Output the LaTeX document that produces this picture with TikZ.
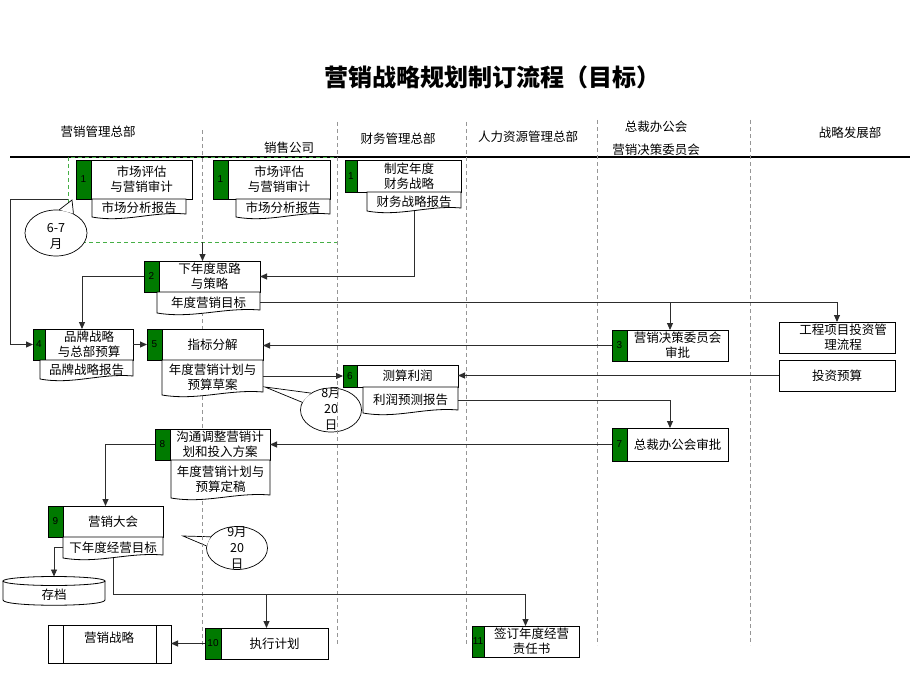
\documentclass[tikz,border=0pt]{standalone}
\usepackage{fontspec}
\newfontfamily\cjk{Noto Sans CJK SC}
\newfontfamily\numfont{Liberation Sans}
\usetikzlibrary{arrows.meta,shapes.geometric,calc}
\definecolor{mygreen}{RGB}{0,122,0}
\definecolor{lanegray}{RGB}{150,150,150}
\definecolor{linegray}{RGB}{45,45,45}
\definecolor{grpgreen}{RGB}{70,175,70}
\tikzset{
  lbl/.style={font=\cjk\fontsize{12.5}{15}\selectfont, inner sep=0, align=center},
  numcell/.style={draw=black, line width=0.8pt, fill=mygreen, inner sep=0, outer sep=0, font=\numfont\fontsize{10}{12}\selectfont},
  procbox/.style={draw=black, line width=0.8pt, fill=white, inner sep=1pt, outer sep=0, align=center, font=\cjk\fontsize{12.5}{15}\selectfont},
  docshape/.style={draw=black, line width=0.8pt, fill=white},
  doctext/.style={inner sep=0, outer sep=0, align=center, font=\cjk\fontsize{12.5}{15}\selectfont},
  conn/.style={draw=linegray, line width=0.9pt},
  arr/.style={conn, -{Triangle[length=7pt,width=6pt]}},
  lane/.style={draw=lanegray, line width=0.8pt, dash pattern=on 4pt off 3pt},
  callline/.style={draw=black, line width=0.7pt},
  callout/.style={ellipse, draw=black, fill=white, line width=0.7pt, inner sep=0},
}
% name, number, x1, xg, x2, y1, y2, text
\newcommand{\pbox}[8]{%
  \node[numcell, minimum width={(#4)-(#3)}, minimum height={(#7)-(#6)}, anchor=north west] (#1n) at (#3,#6) {#2};
  \node[procbox, minimum width={(#5)-(#4)}, minimum height={(#7)-(#6)}, anchor=north west] (#1) at (#4,#6) {#8};
}
% name, x1, x2, y1, y2, text
\newcommand{\dbox}[6]{%
  \path[docshape] (#2,#4) -- (#2,#5) .. controls ({#2+0.35*(#3-#2)},{#5+6}) and ({#2+0.65*(#3-#2)},{#5-6}) .. (#3,{#5-3}) -- (#3,#4) -- cycle;
  \node[doctext, minimum width={(#3)-(#2)}, minimum height={(#5)-(#4)}, anchor=north west] (#1) at (#2,#4) {#6};
}
\begin{document}
\begin{tikzpicture}[x=1pt,y=-1pt]
\path[fill=white] (0,0) rectangle (920,690);
\useasboundingbox (0,0) rectangle (920,690);

% title
\node[font=\cjk\bfseries\fontsize{24}{28}\selectfont, inner sep=0] (title) at (492,77) {营销战略规划制订流程（目标）};

% lane headers
\node[lbl] (h1) at (98,132) {营销管理总部};
\node[lbl] (h2) at (289,148) {销售公司};
\node[lbl] (h3) at (398,139) {财务管理总部};
\node[lbl] (h4) at (528,137) {人力资源管理总部};
\node[lbl] (h5a) at (656,127) {总裁办公会};
\node[lbl] (h5b) at (656,150) {营销决策委员会};
\node[lbl] (h6) at (850,133) {战略发展部};
\draw[black, line width=1.2pt] (10,157) -- (910,157);

% group box
\node[draw=grpgreen, line width=0.9pt, dash pattern=on 4pt off 3pt, minimum width=269, minimum height=85, inner sep=0, outer sep=0, anchor=north west] (grp) at (68,157) {};

% callouts
\node[callout, minimum width=62, minimum height=46] (c1) at (56,233) {};
\coordinate (c1tip) at (72,200);
\fill[white] (c1.82) -- (c1tip) -- (c1.48) -- cycle;
\draw[callline] (c1.82) -- (c1tip) -- (c1.48);
\node[lbl, font=\cjk\fontsize{12.5}{16}\selectfont] (c1t) at (56,236) {6-7\\月};

\node[callout, minimum width=61, minimum height=44] (c2) at (331,410) {};
\coordinate (c2tip) at (265,387);
\fill[white] (c2.165) -- (c2tip) -- (c2.140) -- cycle;
\draw[callline] (c2.165) -- (c2tip) -- (c2.140);
\node[lbl, font=\cjk\fontsize{12.5}{16}\selectfont] (c2t) at (331,409) {8月\\20\\日};

\node[callout, minimum width=61, minimum height=43] (c3) at (237,548) {};
\coordinate (c3tip) at (183,536);
\fill[white] (c3.157) -- (c3tip) -- (c3.176) -- cycle;
\draw[callline] (c3.157) -- (c3tip) -- (c3.176);
\node[lbl, font=\cjk\fontsize{12.5}{16}\selectfont] (c3t) at (237,548) {9月\\20\\日};

% lanes
\draw[lane] (202,130) -- (202,645);
\draw[lane] (337,122) -- (337,645);
\draw[lane] (466,122) -- (466,645);
\draw[lane] (597,120) -- (597,645);
\draw[lane] (750,120) -- (750,645);

% boxes
\pbox{ba}{1}{76}{91}{192}{160}{199}{市场评估\\与营销审计}
\dbox{da}{92}{186}{199}{217}{市场分析报告}
\pbox{bb}{1}{213}{228}{330}{160}{199}{市场评估\\与营销审计}
\dbox{db}{236}{330}{199}{217}{市场分析报告}
\pbox{bc}{1}{345}{357}{461}{160}{192}{制定年度\\财务战略}
\dbox{dc}{367}{461}{192}{211}{财务战略报告}

\pbox{b2}{2}{144}{159}{260}{261}{292}{下年度思路\\与策略}
\dbox{d2}{157}{260}{292}{313}{年度营销目标}

\pbox{b4}{4}{33}{45}{133}{329}{360}{品牌战略\\与总部预算}
\dbox{d4}{40}{133}{360}{379}{品牌战略报告}
\pbox{b5}{5}{147}{162}{263}{329}{360}{指标分解}
\dbox{d5}{162}{263}{360}{395}{年度营销计划与\\预算草案}
\pbox{b3}{3}{612}{627}{728}{330}{361}{营销决策委员会\\审批}
\node[procbox, minimum width=116, minimum height=31, anchor=north west] (e1) at (779,322) {\hspace*{12pt}工程项目投资管\\\hspace*{12pt}理流程};
\node[procbox, minimum width=116, minimum height=31, anchor=north west] (e2) at (779,360) {投资预算};

\pbox{b6}{6}{343}{357}{458}{365}{387}{测算利润}
\dbox{d6}{363}{458}{387}{413}{利润预测报告}
\pbox{b7}{7}{612}{627}{728}{428}{461}{总裁办公会审批}
\pbox{b8}{8}{155}{170}{270}{429}{460}{沟通调整营销计\\划和投入方案}
\dbox{d8}{171}{270}{460}{498}{年度营销计划与\\预算定稿}

\pbox{b9}{9}{48}{63}{163}{506}{537}{营销大会}
\dbox{d9}{63}{163}{537}{558}{下年度经营目标}

% archive cylinder
\path[fill=white] (3,581) -- (3,600) .. controls (3,607) and (105,607) .. (105,600) -- (105,581) -- cycle;
\draw[black, line width=0.8pt] (3,581) -- (3,600) .. controls (3,607) and (105,607) .. (105,600) -- (105,581);
\draw[black, line width=0.8pt, fill=white] (54,581) ellipse [x radius=51pt, y radius=4.5pt];
\node[lbl, minimum width=102, minimum height=20] (cyl) at (54,595) {存档};
\coordinate (cyltop) at (54,576.5);

% marketing strategy (predefined process)
\node[draw=black, line width=0.8pt, fill=white, minimum width=123, minimum height=38, inner sep=0, outer sep=0, anchor=north west] (mk) at (48,625) {};
\draw[black, line width=0.8pt] ([xshift=15]mk.north west) -- ([xshift=15]mk.south west);
\draw[black, line width=0.8pt] ([xshift=-15]mk.north east) -- ([xshift=-15]mk.south east);
\node[lbl] (mkt) at (109,638) {营销战略};

\pbox{b10}{10}{205}{221}{328}{628}{659}{执行计划}
\pbox{b11}{11}{472}{484}{579}{626}{657}{签订年度经营\\责任书}

% connectors
\draw[arr] (grp.west) -- ++(-58,0) |- (b4n.west);
\draw[arr] (grp.south) -- (grp.south |- b2.north);
\draw[arr] (dc.south) |- (b2.east);
\draw[arr] (b2n.west) -| ([xshift=-7]b4.north);
\draw[arr] (b4.east) -- (b4.east -| b5n.west);
\coordinate (b3top) at ([xshift=-7.5]b3.north);
\draw[arr] (d2.east) -| (e1.north);
\draw[arr] (b3top |- d2.east) -- (b3top);
\draw[arr] (b3n.west) -- (b3n.west -| b5.east);
\draw[arr] (e2.west) -- (e2.west -| b6.east);
\draw[arr] (d5.east |- b6n.west) -- (b6n.west);
\coordinate (b7top) at ([xshift=-7.5]b7.north);
\draw[arr] (d6.east) -| (b7top);
\draw[arr] (b7n.west) -- (b7n.west -| b8.east);
\coordinate (b9top) at ([xshift=-7.5]b9.north);
\draw[arr] (b8n.west) -| (b9top);
\draw[arr] (d9.west) -| (cyltop);
\coordinate (b10top) at ([xshift=-8]b10.north);
\coordinate (b11top) at ([xshift=-6]b11.north);
\draw[conn] (d9.south) -- (d9.south |- 0,594) coordinate (j1);
\draw[arr] (j1) -| (b11top);
\draw[arr] (j1 -| b10top) -- (b10top);
\draw[arr] (b10n.west) -- (b10n.west -| mk.east);
\end{tikzpicture}
\end{document}
